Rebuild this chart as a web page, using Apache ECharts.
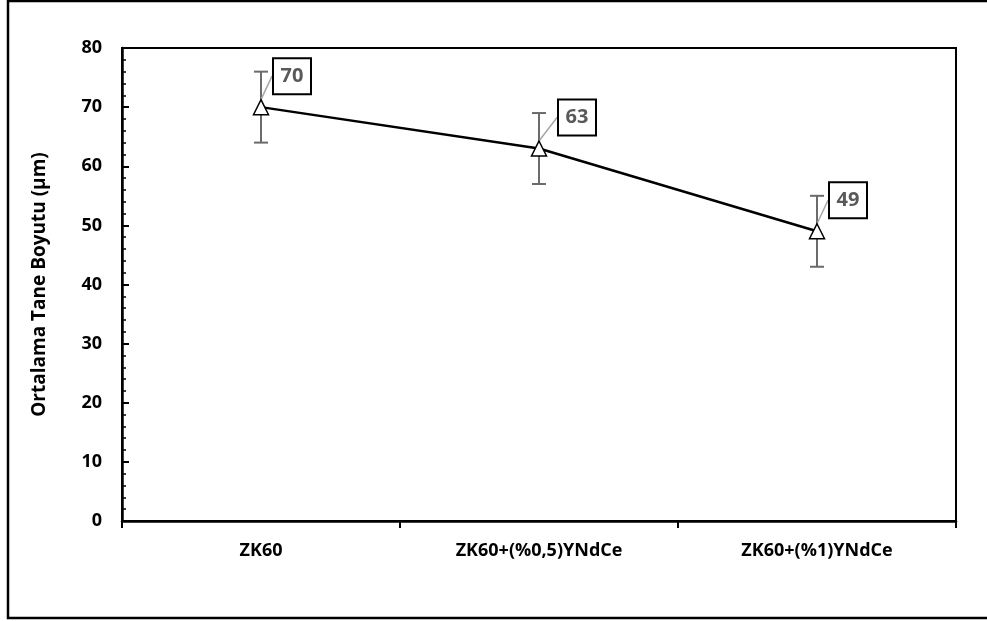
<!DOCTYPE html>
<html>
<head>
<meta charset="utf-8">
<script src="https://cdn.jsdelivr.net/npm/echarts@6/dist/echarts.min.js"></script>
<style>
  html, body { margin: 0; padding: 0; background: #fff; }
  #chart { width: 987px; height: 621px; }
</style>
</head>
<body>
<div id="chart"></div>
<script>
// data
const categories = ['ZK60', 'ZK60+(%0,5)YNdCe', 'ZK60+(%1)YNdCe'];
const grainSize = [70, 63, 49];
const errLow = [64, 57, 43];
const errHigh = [76, 69, 55];
const yTicks = [0, 80, 10];   // min, max, step

const font = '"Open Sans", "Noto Sans", sans-serif';
const chart = echarts.init(document.getElementById('chart'));

const option = {
    animation: false,
    backgroundColor: '#fff',
    graphic: [{
        type: 'rect',
        shape: { x: 8, y: 1, width: 1000, height: 617 },
        style: { fill: 'none', stroke: '#000', lineWidth: 2.5 },
        silent: true
    }],
    grid: {
        left: 122, right: 31, top: 48, bottom: 100,
        show: true,
        borderColor: '#000',
        borderWidth: 2,
        backgroundColor: 'transparent'
    },
    xAxis: {
        type: 'category',
        data: categories,
        boundaryGap: true,
        axisLine: { lineStyle: { color: '#000', width: 2.5 } },
        axisTick: { show: true, inside: false, length: 7, lineStyle: { color: '#000', width: 2 } },
        axisLabel: { color: '#000', fontWeight: 'bold', fontSize: 18, fontFamily: font, margin: 21 },
        splitLine: { show: false }
    },
    yAxis: {
        type: 'value',
        min: yTicks[0], max: yTicks[1], interval: yTicks[2],
        name: 'Ortalama Tane Boyutu (µm)',
        nameLocation: 'middle',
        nameGap: 73,
        nameTextStyle: { color: '#000', fontWeight: 'bold', fontSize: 19, fontFamily: font },
        axisLine: { show: true, lineStyle: { color: '#000', width: 2.5 } },
        axisTick: { show: true, inside: true, length: 7, lineStyle: { color: '#000', width: 2 } },
        minorTick: { show: true, splitNumber: 5, length: 4, lineStyle: { color: '#000', width: 1.5 } },
        axisLabel: { color: '#000', fontWeight: 'bold', fontSize: 18, fontFamily: font, margin: 20 },
        splitLine: { show: false }
    },
    series: [
        {
            type: 'custom',
            name: 'error',
            z: 1,
            renderItem: function (params, api) {
                const x = api.value(0);
                const lo = api.coord([x, api.value(1)]);
                const hi = api.coord([x, api.value(2)]);
                const w = 7;
                const st = { stroke: '#6b6b6b', lineWidth: 2 };
                return {
                    type: 'group',
                    children: [
                        { type: 'line', shape: { x1: lo[0], y1: lo[1], x2: hi[0], y2: hi[1] }, style: st },
                        { type: 'line', shape: { x1: lo[0] - w, y1: lo[1], x2: lo[0] + w, y2: lo[1] }, style: st },
                        { type: 'line', shape: { x1: hi[0] - w, y1: hi[1], x2: hi[0] + w, y2: hi[1] }, style: st }
                    ]
                };
            },
            data: categories.map((c, i) => [i, errLow[i], errHigh[i]])
        },
        {
            type: 'line',
            name: 'size',
            z: 3,
            data: grainSize,
            symbol: 'triangle',
            symbolSize: 15,
            showAllSymbol: true,
            lineStyle: { color: '#000', width: 2.5 },
            itemStyle: { color: '#fff', borderColor: '#000', borderWidth: 1.5 },
            label: {
                show: true,
                position: 'inside',
                color: '#595959',
                fontWeight: 'bold',
                fontSize: 20,
                fontFamily: font,
                backgroundColor: '#fff',
                borderColor: '#000',
                borderWidth: 2,
                width: 36,
                height: 34,
                lineHeight: 34,
                align: 'center',
                verticalAlign: 'middle'
            },
            labelLine: {
                show: true,
                lineStyle: { color: '#a6a6a6', width: 1.5 }
            },
            labelLayout: function (params) {
                const offs = [[31, -31], [38, -31], [31, -31]];
                const o = offs[params.dataIndex];
                return { dx: o[0], dy: o[1] };
            }
        }
    ]
};

chart.setOption(option);
</script>
</body>
</html>
